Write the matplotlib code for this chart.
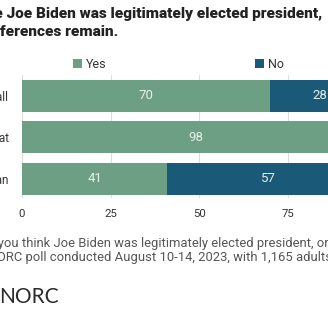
import matplotlib
matplotlib.use('Agg')
import matplotlib.pyplot as plt
import numpy as np

plt.rcParams['font.family'] = ['Roboto', 'DejaVu Sans']

# Dane z sondażu
groups = ['Overall', 'Democrat', 'Republican']
yes = [70, 98, 41]
no = [28, 1, 57]

c_yes = '#6d9f84'
c_no = '#1a5a78'

W, H = 328, 328
fig = plt.figure(figsize=(W / 100, H / 100), dpi=100)

def fx(px):
    return px / W

def fy(py):
    return 1 - py / H

# Oś wykresu (szerokość 0-100 wychodzi poza kadr)
ax = fig.add_axes([fx(22), fy(198), fx(354.7), 123 / H])
y = np.arange(len(groups))
b1 = ax.barh(y, yes, height=0.77, color=c_yes, label='Yes', zorder=2)
b2 = ax.barh(y, no, left=yes, height=0.77, color=c_no, label='No', zorder=2)

for bars, vals, lefts in [(b1, yes, [0] * 3), (b2, no, yes)]:
    for bar, v, l in zip(bars, vals, lefts):
        if v >= 5:
            ax.text(l + v / 2, bar.get_y() + bar.get_height() / 2, str(v),
                    ha='center', va='center', color='#e8efea', fontsize=9.5)

ax.set_xlim(0, 100)
ax.set_ylim(2.46, -0.5)
ax.set_yticks(y)
ax.set_yticklabels(groups, fontsize=8.5, color='#333333')
ax.set_xticks([0, 25, 50, 75, 100])
ax.tick_params(axis='x', length=0, pad=8, labelsize=8.2, labelcolor='#333333')
ax.tick_params(axis='y', length=0, pad=9.5)
ax.grid(axis='x', color='#dddddd', linewidth=0.8, zorder=0)
for s in ax.spines.values():
    s.set_visible(False)

leg = ax.legend(handles=[b1, b2], ncol=2, loc='lower left',
                bbox_to_anchor=(fx(40) / fx(354.7), 0.94), frameon=False,
                fontsize=9, handlelength=0.7, handleheight=0.7,
                handletextpad=0.3, columnspacing=11.9, labelcolor='#333333')

# Tytuł
fig.text(fx(322), fy(14), 'Most Americans believe Joe Biden was legitimately elected president,',
         ha='right', va='center', fontsize=11.0, fontweight='heavy', color='#222222')
fig.text(fx(118), fy(32), 'but partisan differences remain.',
         ha='right', va='center', fontsize=11.0, fontweight='heavy', color='#222222')

# Przypisy
fig.text(fx(-80), fy(243), 'Question: Do you think Joe Biden was legitimately elected president, or not?',
         ha='left', va='center', fontsize=9.4, color='#555555')
fig.text(fx(-80), fy(258), 'Source: AP-NORC poll conducted August 10-14, 2023, with 1,165 adults nationwide.',
         ha='left', va='center', fontsize=9.4, color='#555555')

fig.text(fx(-1), fy(297), 'NORC', ha='left', va='center', fontsize=15,
         family='Lato', color='#2b2b2b')

fig.savefig('out.png', dpi=100, facecolor='white')
